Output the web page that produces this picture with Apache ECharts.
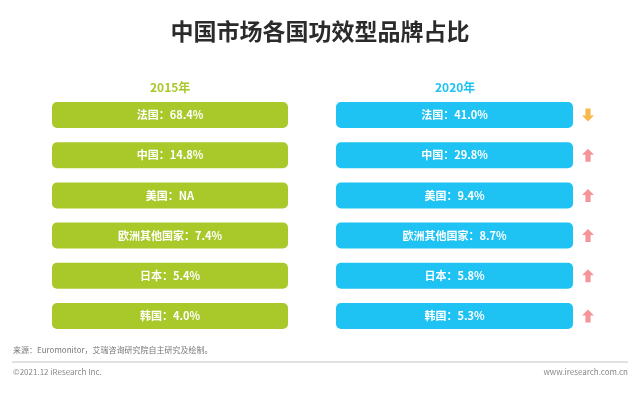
<!DOCTYPE html>
<html><head><meta charset="utf-8">
<script src="https://cdn.jsdelivr.net/npm/echarts@6/dist/echarts.min.js"></script>
<style>html,body{margin:0;padding:0;background:#fff}#c{width:640px;height:393px}</style>
</head><body><div id="c"></div>
<script>
const countries = ['法国', '中国', '美国', '欧洲其他国家', '日本', '韩国'];
const values2015 = ['68.4%', '14.8%', 'NA', '7.4%', '5.4%', '4.0%'];
const values2020 = ['41.0%', '29.8%', '9.4%', '8.7%', '5.8%', '5.3%'];
const trend = ['down', 'up', 'up', 'up', 'up', 'up'];
const years = ['2015年', '2020年'];

const GREEN = '#a9c92b', BLUE = '#1ec2f3', UP = '#f07a80', DOWN = '#f5a820';
const FONT = '"Noto Sans CJK SC", "Noto Sans", sans-serif';
const arrowPath = 'path://M6,0 L12,6 L8.6,6 L8.6,13 L3.4,13 L3.4,6 L0,6 Z';

const chart = echarts.init(document.getElementById('c'), null, {renderer: 'canvas'});
const gridTop = 95, gridH = 241;
const yCat = (i) => ({gridIndex: i, type: 'category', data: countries, inverse: true, show: false});
const xVal = (i) => ({gridIndex: i, type: 'value', min: 0, max: 1, show: false});
const boxSeries = (i, vals, color) => ({
  type: 'bar', xAxisIndex: i, yAxisIndex: i, barWidth: 26,
  data: countries.map(() => 1),
  itemStyle: {color: color, borderRadius: 5},
  label: {show: true, position: 'inside', color: '#fff', fontFamily: FONT, fontWeight: 'bold', fontSize: 11,
    formatter: p => countries[p.dataIndex] + '：' + vals[p.dataIndex]},
  silent: true, animation: false
});
chart.setOption({
  backgroundColor: '#fff',
  animation: false,
  title: {text: '中国市场各国功效型品牌占比', left: 'center', top: 15,
    textStyle: {fontFamily: FONT, fontWeight: 'bold', fontSize: 23, color: '#2b2b2b'}},
  grid: [
    {left: 52, width: 236, top: gridTop, height: gridH},
    {left: 336, width: 237, top: gridTop, height: gridH},
    {left: 578, width: 20, top: gridTop, height: gridH}
  ],
  xAxis: [xVal(0), xVal(1), xVal(2)],
  yAxis: [yCat(0), yCat(1), yCat(2)],
  series: [
    boxSeries(0, values2015, GREEN),
    boxSeries(1, values2020, BLUE),
    {type: 'scatter', xAxisIndex: 2, yAxisIndex: 2, silent: true,
      data: countries.map((c, i) => ({
        value: [0.5, c],
        symbolRotate: trend[i] === 'down' ? 180 : 0,
        itemStyle: {color: trend[i] === 'down' ? DOWN : UP}
      })),
      symbol: arrowPath, symbolSize: [12, 13]}
  ],
  graphic: [
    {type: 'text', left: 170 - 20, top: 81, style: {text: years[0], fill: GREEN, font: 'bold 12px ' + FONT}},
    {type: 'text', left: 455 - 20, top: 81, style: {text: years[1], fill: BLUE, font: 'bold 12px ' + FONT}},
    {type: 'text', left: 13, top: 346, style: {text: '来源：Euromonitor，艾瑞咨询研究院自主研究及绘制。', fill: '#777', font: '8px ' + FONT}},
    {type: 'line', shape: {x1: 12, y1: 362, x2: 628, y2: 362}, style: {stroke: '#c4c4c4', lineWidth: 1}},
    {type: 'text', left: 13, top: 368, style: {text: '©2021.12 iResearch Inc.', fill: '#888', font: '8px ' + FONT}},
    {type: 'text', right: 12, top: 368, style: {text: 'www.iresearch.com.cn', fill: '#888', font: '8px ' + FONT}}
  ]
});
</script></body></html>
